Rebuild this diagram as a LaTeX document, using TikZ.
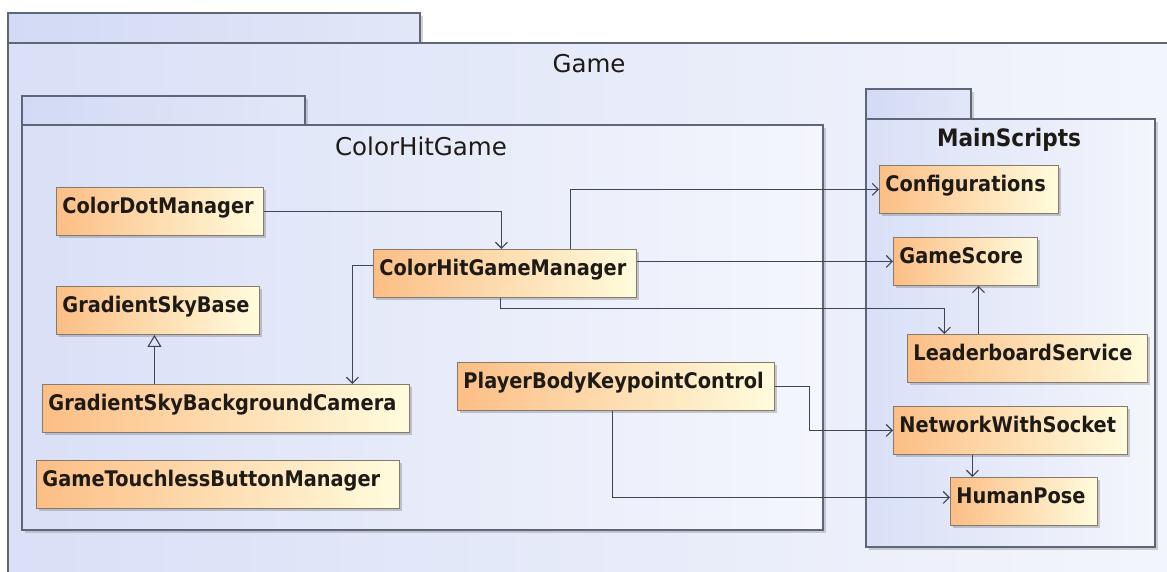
\documentclass[tikz,border=0pt]{standalone}
\usepackage{fontspec}
\setmainfont{DejaVu Sans}
\newfontfamily\clsfont[FakeStretch=0.9]{DejaVu Sans}
\usetikzlibrary{arrows.meta,shadows,calc}

\definecolor{pkgline}{HTML}{5E6678}
\definecolor{pkgL}{HTML}{D9E0F7}
\definecolor{pkgR}{HTML}{F4F6FC}
\definecolor{tabL}{HTML}{D2DAF5}
\definecolor{tabR}{HTML}{E2E7F8}
\definecolor{clsL}{HTML}{FCBE85}
\definecolor{clsR}{HTML}{FFFCDD}
\definecolor{clsline}{HTML}{857A6E}
\definecolor{wire}{HTML}{3D4655}
\definecolor{ink}{HTML}{1E1A16}

\tikzset{
  pkgshadow/.style={drop shadow={shadow xshift=2.5pt,shadow yshift=-2.5pt,opacity=0.35}},
  pkgbody/.style={draw=pkgline, line width=1.1pt, left color=pkgL, right color=pkgR, pkgshadow},
  pkgtab/.style={draw=pkgline, line width=1.1pt, left color=tabL, right color=tabR, pkgshadow},
  pkgtitle/.style={anchor=base, text=ink, font=\fontsize{24.5}{28}\selectfont},
  cls/.style={draw=clsline, line width=0.9pt, left color=clsL, right color=clsR,
    anchor=north west, inner xsep=6pt, inner ysep=0pt, text height=26pt, text depth=22pt,
    align=left, text=ink, font=\clsfont\bfseries\fontsize{21.5}{24}\selectfont,
    drop shadow={shadow xshift=3pt,shadow yshift=-3pt,opacity=0.4}},
  dep/.style={draw=wire, line width=1.1pt, -{Straight Barb[length=6pt,width=12pt]}},
  gen/.style={draw=wire, line width=1.1pt, -{Triangle[open,length=12pt,width=14pt]}}
}

\begin{document}
\begin{tikzpicture}[x=1pt,y=-1pt]
\useasboundingbox (0,0) rectangle (1167,571);
\clip (0,0) rectangle (1167,571);
\fill[white] (0,0) rectangle (1167,571);

% package Game (runs past the right and bottom edges)
\path[pkgtab] (8,13) rectangle (420,43);
\path[pkgbody] (8,43) rectangle (1200,620);
\node[pkgtitle] (gameT) at (589,72) {Game};

% package ColorHitGame
\path[pkgtab] (22,96) rectangle (305,125);
\path[pkgbody] (22,125) rectangle (823,530);
\node[pkgtitle] (chgT) at (421,155) {ColorHitGame};

% package MainScripts
\path[pkgtab] (866,89) rectangle (971,119);
\path[pkgbody] (866,119) rectangle (1155,547);
\node[pkgtitle, font=\clsfont\bfseries\fontsize{24}{28}\selectfont] (msT) at (1009,146) {MainScripts};

% classes of ColorHitGame
\node[cls, text width=195pt] (cdm)  at (56,187)  {ColorDotManager};
\node[cls, text width=251pt] (chgm) at (373,249) {ColorHitGameManager};
\node[cls, text width=191pt] (gsb)  at (56,286)  {GradientSkyBase};
\node[cls, text width=355pt] (gsbc) at (42,384)  {GradientSkyBackgroundCamera};
\node[cls, text width=351pt] (gtbm) at (36,460)  {GameTouchlessButtonManager};
\node[cls, text width=305pt] (pbkc) at (457,362) {PlayerBodyKeypointControl};

% classes of MainScripts
\node[cls, text width=167pt] (conf) at (879,165) {Configurations};
\node[cls, text width=132pt] (gs)   at (893,237) {GameScore};
\node[cls, text width=228pt] (lb)   at (907,334) {LeaderboardService};
\node[cls, text width=222pt] (nws)  at (893,406) {NetworkWithSocket};
\node[cls, text width=135pt] (hp)   at (950,477) {HumanPose};

% connector end points on the box borders
\coordinate (chgmIn)   at ([xshift=-3.5pt]chgm.north);
\coordinate (chgmL)    at ([yshift=8pt]chgm.west);
\coordinate (gsbcIn)   at ([xshift=126.5pt]gsbc.north);
\coordinate (gsbcUp)   at ([xshift=-71.5pt]gsbc.north);
\coordinate (chgmTop)  at ([xshift=65.5pt]chgm.north);
\coordinate (chgmBot)  at ([xshift=-4.5pt]chgm.south);
\coordinate (lbIn)     at ([xshift=-83pt]lb.north);
\coordinate (lbUp)     at ([xshift=-49pt]lb.north);
\coordinate (pbkcBot)  at ([xshift=-3.5pt]pbkc.south);
\coordinate (hpIn)     at ([yshift=4pt]hp.west);
\coordinate (nwsDown)  at ([xshift=-38pt]nws.south);

% connectors
\draw[dep] (cdm.east) -| (chgmIn);
\draw[dep] (chgmL) -| (gsbcIn);
\draw[gen] (gsbcUp) -- (gsbcUp |- gsb.south);
\draw[dep] (chgmTop) |- (conf.west);
\draw[dep] (gs.west -| chgm.east) -- (gs.west);
\draw[dep] (chgmBot) -- ++(0,-11pt) -| (lbIn);
\draw[dep] (lbUp) -- (lbUp |- gs.south);
\draw[dep] (pbkc.east) -- ++(35pt,0) |- (nws.west);
\draw[dep] (pbkcBot) |- (hpIn);
\draw[dep] (nwsDown) -- (nwsDown |- hp.north);
\end{tikzpicture}
\end{document}
